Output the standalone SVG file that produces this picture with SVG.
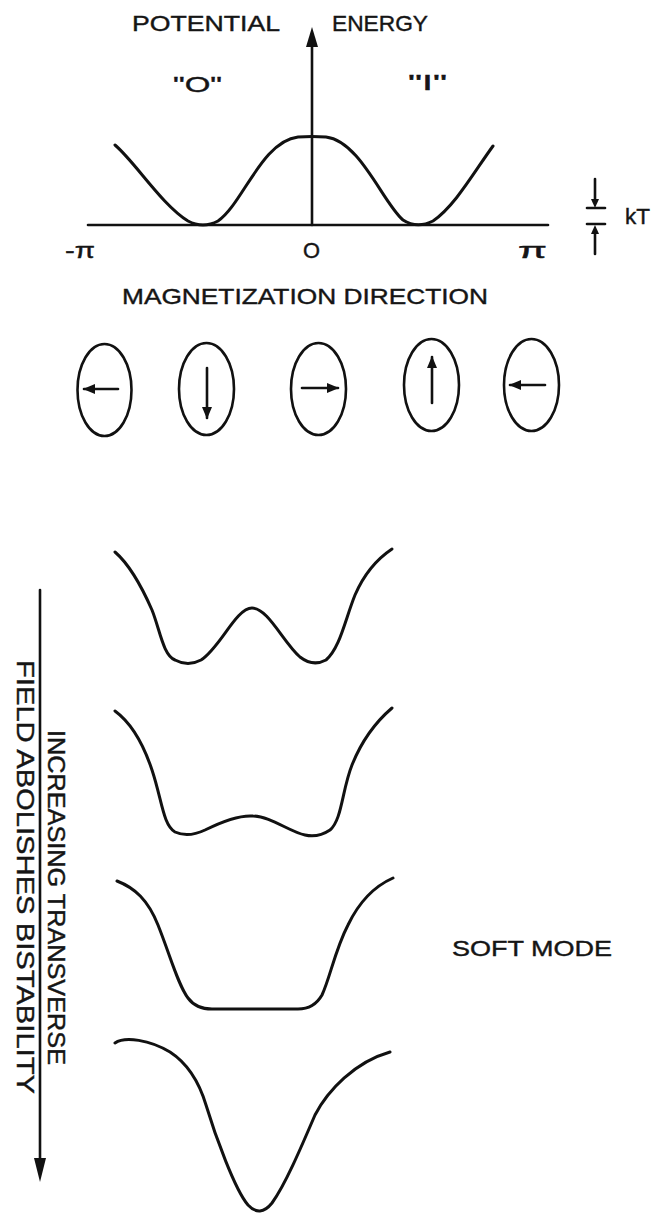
<svg xmlns="http://www.w3.org/2000/svg" width="668" height="1223" viewBox="0 0 668 1223">
<style>
.ln{fill:none;stroke:#111;stroke-width:2.6;stroke-linecap:round;stroke-linejoin:round}
.cv{fill:none;stroke:#111;stroke-width:3;stroke-linecap:round;stroke-linejoin:round}
.el{fill:none;stroke:#111;stroke-width:2.6}
.t{font-family:"Liberation Sans",Arial,sans-serif;font-size:22px;fill:#151515;stroke:#151515;stroke-width:0.4}
.ah{fill:#111}
</style>
<defs>
<marker id="arr" viewBox="0 0 12 10" refX="11" refY="5" markerWidth="13" markerHeight="10" markerUnits="userSpaceOnUse" orient="auto">
<path d="M0,0 L12,5 L0,10 Z" fill="#111"/>
</marker>
</defs>

<g id="potential-plot">
<line class="ln" x1="88" y1="225" x2="548" y2="225"/>
<line class="ln" x1="312" y1="225" x2="312" y2="44"/>
<path class="ah" d="M312,27 L306,47 L318,47 Z"/>
<path class="cv" d="M115,145 C135,162 162,205 188,221 Q203,229 218,221 C242,205 262,141 298,137 Q312,136 326,137 C360,141 383,203 403,220 Q417,229 433,221 C455,206 474,172 493,146"/>
<text class="t" x="132" y="31" textLength="148" lengthAdjust="spacingAndGlyphs">POTENTIAL</text>
<text class="t" x="332" y="31" textLength="96" lengthAdjust="spacingAndGlyphs">ENERGY</text>
<text class="t" x="173" y="92" textLength="49" lengthAdjust="spacingAndGlyphs">"O"</text>
<text class="t" x="408" y="90" textLength="39" lengthAdjust="spacingAndGlyphs">"I"</text>
<text class="t" x="65" y="258" textLength="30" lengthAdjust="spacingAndGlyphs">-π</text>
<text class="t" x="303" y="258" textLength="17" lengthAdjust="spacingAndGlyphs">O</text>
<text class="t" x="518" y="258" textLength="29" lengthAdjust="spacingAndGlyphs">π</text>
</g>

<g id="kT-marker">
<line class="ln" x1="595" y1="179" x2="595" y2="202" stroke-width="2"/>
<path class="ah" d="M595,208 L591,199 L599,199 Z"/>
<line class="ln" x1="587" y1="208" x2="605" y2="208" stroke-width="2"/>
<line class="ln" x1="587" y1="224" x2="605" y2="224" stroke-width="2"/>
<path class="ah" d="M595,225 L591,234 L599,234 Z"/>
<line class="ln" x1="595" y1="232" x2="595" y2="254" stroke-width="2"/>
<text class="t" x="625" y="224" textLength="25" lengthAdjust="spacingAndGlyphs">kT</text>
</g>

<g id="magnetization-label">
<text class="t" x="122" y="304" textLength="366" lengthAdjust="spacingAndGlyphs">MAGNETIZATION DIRECTION</text>
</g>

<g id="domain-1">
<ellipse class="el" cx="104.5" cy="390" rx="27" ry="46"/>
<line class="ln" x1="118" y1="389" x2="84" y2="389" marker-end="url(#arr)"/>
</g>
<g id="domain-2">
<ellipse class="el" cx="206.5" cy="389" rx="27.5" ry="46"/>
<line class="ln" x1="207" y1="368" x2="207" y2="418" marker-end="url(#arr)"/>
</g>
<g id="domain-3">
<ellipse class="el" cx="318.5" cy="389" rx="27.5" ry="46"/>
<line class="ln" x1="302" y1="388" x2="338" y2="388" marker-end="url(#arr)"/>
</g>
<g id="domain-4">
<ellipse class="el" cx="431.5" cy="385" rx="27.5" ry="46"/>
<line class="ln" x1="432" y1="403" x2="432" y2="357" marker-end="url(#arr)"/>
</g>
<g id="domain-5">
<ellipse class="el" cx="531.5" cy="385" rx="27.5" ry="46"/>
<line class="ln" x1="545" y1="385" x2="510" y2="385" marker-end="url(#arr)"/>
</g>

<g id="curve-1">
<path class="cv" d="M115,552 C130,565 141,585 152,610 C160,630 163,655 175,660 Q188,667 201,660 C220,648 236,608 252,608 C268,608 283,642 300,657 Q313,667 326,660 C340,648 345,620 355,595 C365,572 380,557 392,549"/>
</g>
<g id="curve-2">
<path class="cv" d="M115,711 C130,722 142,740 152,770 C162,800 163,825 175,832 Q188,838 205,830 C225,820 240,815 253,816 C270,816 290,832 305,835 Q318,838 330,830 C342,820 342,790 352,765 C362,740 378,720 392,708"/>
</g>
<g id="curve-3">
<path class="cv" d="M117,881 C135,888 148,900 158,925 C170,955 178,985 188,998 Q196,1009 212,1009 L298,1009 Q314,1009 322,995 C330,978 335,950 348,925 C360,900 375,886 393,878"/>
</g>
<g id="curve-4">
<path class="cv" d="M115,1043 C125,1036 150,1040 170,1052 C190,1065 200,1085 206,1105 C215,1135 235,1190 248,1205 Q260,1218 272,1203 C285,1185 300,1150 315,1115 C328,1090 355,1062 390,1052"/>
</g>

<g id="soft-mode-label">
<text class="t" x="452" y="956" textLength="160" lengthAdjust="spacingAndGlyphs">SOFT MODE</text>
</g>

<g id="connectors">
<line class="ln" x1="40" y1="590" x2="40" y2="1162"/>
<path class="ah" d="M40,1182 L34,1158 L46,1158 Z"/>
</g>
<g id="field-label">
<text class="t" x="48" y="730" transform="rotate(90 48 730)" style="font-size:23px" textLength="335" lengthAdjust="spacingAndGlyphs">INCREASING TRANSVERSE</text>
<text class="t" x="17" y="660" transform="rotate(90 17 660)" style="font-size:23px" textLength="434" lengthAdjust="spacingAndGlyphs">FIELD ABOLISHES BISTABILITY</text>
</g>
</svg>
